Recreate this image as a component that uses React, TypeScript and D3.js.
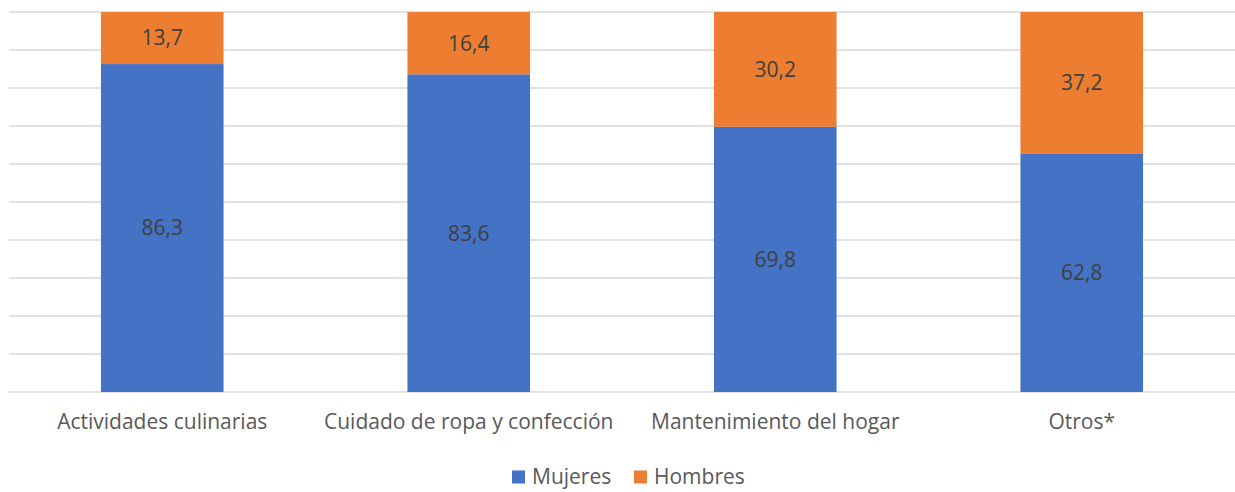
import { useEffect, useRef } from 'react';
import * as d3 from 'd3';

const categories = ['Actividades culinarias', 'Cuidado de ropa y confección', 'Mantenimiento del hogar', 'Otros*'];
const mujeres = [86.3, 83.6, 69.8, 62.8];
const hombres = [13.7, 16.4, 30.2, 37.2];
const seriesNames = ['Mujeres', 'Hombres'];
const colors = ['#4472C4', '#ED7D31'];
const yTicks = [0, 10, 20, 30, 40, 50, 60, 70, 80, 90, 100];

const fmt = (v: number) => v.toFixed(1).replace('.', ',');

export default function App() {
  const ref = useRef<HTMLDivElement>(null);
  useEffect(() => {
    document.body.style.margin = '0';
    const width = 1235;
    const height = 492;
    const marginTop = 12;
    const marginBottom = 100;
    const marginLeft = 9;
    const marginRight = 0;
    const font = "'Open Sans', sans-serif";

    const x = d3.scaleBand<string>()
      .domain(categories)
      .range([marginLeft, width - marginRight])
      .paddingInner(0.6)
      .paddingOuter(0.3);

    const y = d3.scaleLinear()
      .domain([0, 100])
      .range([height - marginBottom, marginTop]);

    const rows = categories.map((c, i) => ({ cat: c, Mujeres: mujeres[i], Hombres: hombres[i] }));
    const stacked = d3.stack<any>().keys(seriesNames)(rows);

    const svg = d3.create('svg')
      .attr('width', width)
      .attr('height', height)
      .attr('viewBox', [0, 0, width, height])
      .style('display', 'block')
      .style('font-family', font);

    // gridlines
    svg.append('g')
      .selectAll()
      .data(yTicks)
      .join('line')
      .attr('x1', marginLeft)
      .attr('x2', width - marginRight)
      .attr('y1', (d) => y(d))
      .attr('y2', (d) => y(d))
      .attr('stroke', '#d9d9d9')
      .attr('stroke-width', 1.5);

    // bars
    const layer = svg.append('g')
      .selectAll()
      .data(stacked)
      .join('g')
      .attr('fill', (_, i) => colors[i]);

    layer.selectAll('rect')
      .data((d) => d)
      .join('rect')
      .attr('x', (d: any) => x(d.data.cat)!)
      .attr('width', x.bandwidth())
      .attr('y', (d) => y(d[1]))
      .attr('height', (d) => y(d[0]) - y(d[1]));

    layer.selectAll('text')
      .data((d) => d.map((v) => ({ v, key: d.key })))
      .join('text')
      .attr('x', (d: any) => x(d.v.data.cat)! + x.bandwidth() / 2)
      .attr('y', (d) => y((d.v[0] + d.v[1]) / 2))
      .attr('dy', '0.35em')
      .attr('text-anchor', 'middle')
      .attr('fill', '#404040')
      .style('font-size', '21px')
      .text((d: any) => fmt(d.v.data[d.key]));

    // category labels
    svg.append('g')
      .selectAll()
      .data(categories)
      .join('text')
      .attr('x', (d) => x(d)! + x.bandwidth() / 2)
      .attr('y', y(0) + 30)
      .attr('dy', '0.35em')
      .attr('text-anchor', 'middle')
      .attr('fill', '#595959')
      .style('font-size', '21px')
      .text((d) => d);

    // legend
    const legendX = [512, 634];
    const lg = svg.append('g')
      .selectAll()
      .data(seriesNames)
      .join('g')
      .attr('transform', (_, i) => `translate(${legendX[i]},${477})`);
    lg.append('rect')
      .attr('x', 0)
      .attr('y', -6.5)
      .attr('width', 13)
      .attr('height', 13)
      .attr('fill', (_, i) => colors[i]);
    lg.append('text')
      .attr('x', 20)
      .attr('dy', '0.35em')
      .attr('fill', '#595959')
      .style('font-size', '21px')
      .text((d) => d);

    const node = svg.node()!;
    ref.current?.append(node);
    return () => {
      node.remove();
    };
  }, []);
  return <div ref={ref}></div>;
}
